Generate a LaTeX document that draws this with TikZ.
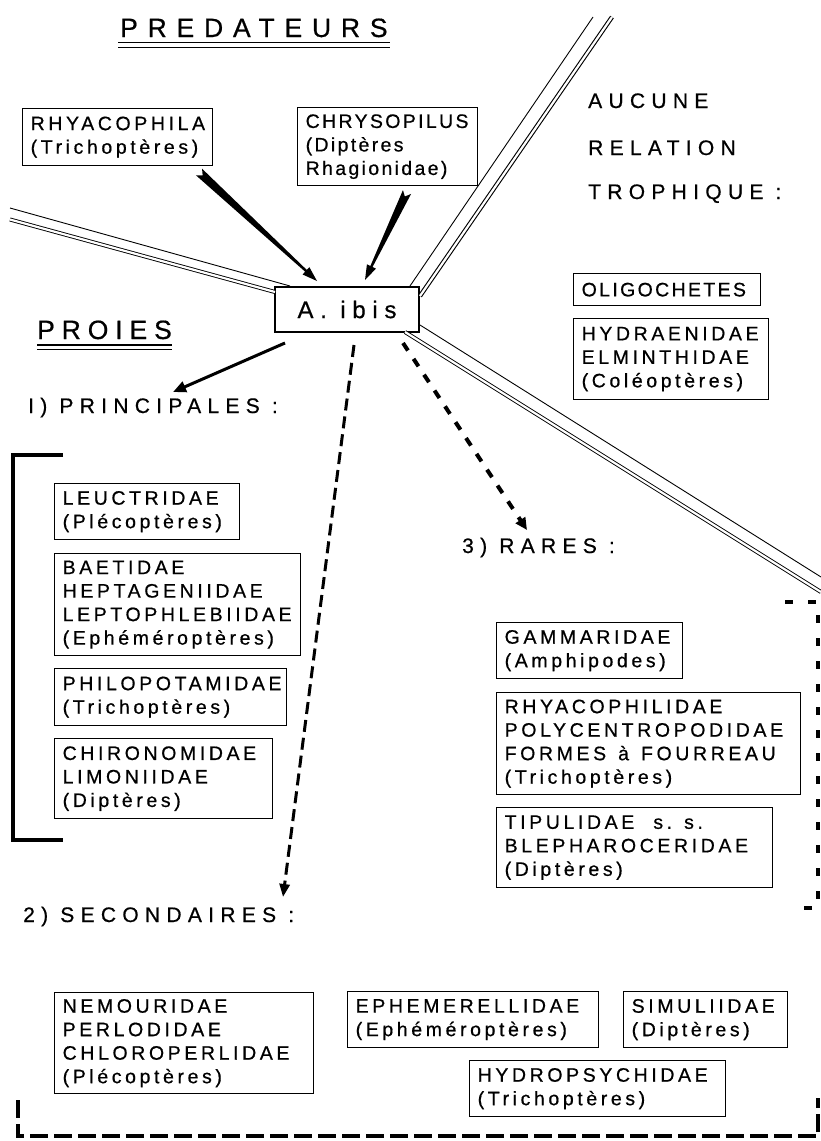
\documentclass[tikz,border=0pt]{standalone}
\usepackage{fontspec}
\setmainfont{Liberation Sans}
\newfontfamily\boxfont[LetterSpace=18.5,FakeBold=0.6]{Liberation Sans}
\newfontfamily\boxfontn[LetterSpace=12,FakeBold=0.6]{Liberation Sans}
\newfontfamily\hdfont[LetterSpace=30,FakeBold=0.6]{Liberation Sans}
\newfontfamily\ttlfont[LetterSpace=37,FakeBold=0.6]{Liberation Sans}
\newfontfamily\proiesfont[LetterSpace=26,FakeBold=0.6]{Liberation Sans}
\newfontfamily\ibisfont[LetterSpace=28,FakeBold=0.6]{Liberation Sans}
\usetikzlibrary{arrows.meta,calc}
\tikzset{
  box/.style={draw, line width=1.3pt, inner sep=0pt, anchor=north west},
  btxt/.style={anchor=west, align=left, inner sep=0pt, font={\boxfont\fontsize{19.5}{23.5}\selectfont}},
  btxtn/.style={btxt, font={\boxfontn\fontsize{19.5}{23.5}\selectfont}},
  hd/.style={anchor=base west, inner sep=0pt, font={\hdfont\fontsize{21}{24}\selectfont}},
  ttl/.style={anchor=base west, inner sep=0pt, font={\ttlfont\fontsize{26.5}{30}\selectfont}},
  road/.style={line width=0.9pt},
  droad/.style={double, double distance=2.2pt, line width=0.9pt},
  preyarrow/.style={line width=3pt, -{Triangle[length=13pt,width=11pt]}},
  dashlong/.style={line width=3pt, dash pattern=on 12pt off 6pt, -{Triangle[length=13pt,width=10pt]}},
  dashshort/.style={line width=4pt, dash pattern=on 9pt off 10pt, -{Triangle[length=12pt,width=11pt]}},
  bracket/.style={line width=4pt},
}
\newcommand\tbox[7][btxt]{%
  \node[box, minimum width=#5pt, minimum height=#6pt] (#2) at (#3,#4) {};
  \node[#1] (#2-t) at ($(#2.west)+(8.5,0)$) {#7};
}
\newcommand\predarrow[3]{% name, start, end
  \coordinate (#1h) at ($(#3)!15pt!(#2)$);
  \fill ($(#2)!4.5pt!90:(#3)$) -- ($(#2)!5pt!(#3)$) -- ($(#2)!4.5pt!-90:(#3)$)
     -- ($(#1h)!1.2pt!-90:(#3)$) -- ($(#1h)!5pt!-90:(#3)$) -- (#3)
     -- ($(#1h)!5pt!90:(#3)$) -- ($(#1h)!1.2pt!90:(#3)$) -- cycle;
}
\begin{document}
\begin{tikzpicture}[x=1pt,y=-1pt]
\useasboundingbox (0,0) rectangle (821,1141);

% titles
\node[ttl] (pred) at (120,37) {PREDATEURS};
\draw[line width=1.2pt] (118,42.5) -- (390,42.5);
\draw[line width=0.8pt] (118,47) -- (390,47);
\node[ttl, font={\proiesfont\fontsize{26.5}{30}\selectfont}] (proies) at (37,339) {PROIES};
\draw[line width=1.2pt] (37,345) -- (172,345);
\draw[line width=0.8pt] (37,349.5) -- (172,349.5);

% central node
\node[draw, line width=1.3pt, minimum width=144pt, minimum height=45pt, inner sep=0pt,
      font={\ibisfont\fontsize{24}{28}\selectfont}] (ibis) at (347,309.5) {A. ibis};

% roads (double lines)
\coordinate (l1a) at (10,208);  \coordinate (l1b) at (290,286);
\coordinate (l2a) at (10,219.5); \coordinate (l2b) at (275,292);
\draw[road] (l1a) -- (l1b);
\draw[droad] (l2a) -- (l2b);
\coordinate (u1a) at (410,286); \coordinate (u1b) at (593,17);
\coordinate (u2a) at (420,296); \coordinate (u2b) at (612,17);
\draw[road] (u1a) -- (u1b);
\draw[droad, line width=1.1pt] (u2a) -- (u2b);
\coordinate (r1a) at (420,325); \coordinate (r1b) at (821,577);
\coordinate (r2a) at (405,332); \coordinate (r2b) at (821,592);
\draw[road] (r1a) -- (r1b);
\draw[droad] (r2a) -- (r2b);

% predators
\tbox{rhya}{22}{108}{190}{57}{RHYACOPHILA\\(Trichoptères)}
\tbox[btxtn]{chry}{297}{107}{180}{78}{CHRYSOPILUS\\(Diptères\\Rhagionidae)}
\coordinate (p1s) at (199,172); \coordinate (p1e) at (317,281);
\coordinate (p2s) at (407,192); \coordinate (p2e) at (365,280);
\predarrow{p1}{p1s}{p1e}
\predarrow{p2}{p2s}{p2e}

% no relation
\node[hd] (auc1) at (588,108) {AUCUNE};
\node[hd] (auc2) at (588,155) {RELATION};
\node[hd] (auc3) at (588,199) {TROPHIQUE :};
\tbox[btxtn]{oligo}{573}{273}{187}{32}{OLIGOCHETES}
\tbox{hydra}{573}{318}{195}{81}{HYDRAENIDAE\\ELMINTHIDAE\\(Coléoptères)}

% principal prey
\node[hd] (princ) at (28,413) {I) PRINCIPALES :};
\coordinate (a1s) at (285,343); \coordinate (a1e) at (173,392);
\draw[preyarrow] (a1s) -- (a1e);
\draw[bracket] (63,455) -- (13,455) -- (13,840) -- (63,840);
\tbox{leuc}{54}{483}{185}{56}{LEUCTRIDAE\\(Plécoptères)}
\tbox{baet}{54}{553}{246}{102}{BAETIDAE\\HEPTAGENIIDAE\\LEPTOPHLEBIIDAE\\(Ephéméroptères)}
\tbox{philo}{54}{668}{232}{57}{PHILOPOTAMIDAE\\(Trichoptères)}
\tbox{chiro}{54}{738}{218}{80}{CHIRONOMIDAE\\LIMONIIDAE\\(Diptères)}

% rare prey
\coordinate (a3s) at (403,343); \coordinate (a3e) at (527,530);
\draw[dashshort] (a3s) -- (a3e);
\node[hd] (rares) at (462,553) {3) RARES :};
\draw[bracket, dash pattern=on 8pt off 15pt] (785,602) -- (818,602) -- (818,908) -- (790,908);
\tbox{gamm}{496}{622}{186}{56}{GAMMARIDAE\\(Amphipodes)}
\tbox{rhyc}{496}{692}{304}{102}{RHYACOPHILIDAE\\POLYCENTROPODIDAE\\FORMES\hspace{3pt} à\hspace{3pt} FOURREAU\\(Trichoptères)}
\tbox{tipu}{496}{807}{276}{80}{TIPULIDAE\hspace{10pt} s. s.\\BLEPHAROCERIDAE\\(Diptères)}

% secondary prey
\coordinate (a2s) at (354,345); \coordinate (a2e) at (283,897);
\draw[dashlong] (a2s) -- (a2e);
\node[hd] (second) at (23,922) {2) SECONDAIRES :};
\tbox{nemo}{54}{992}{259}{101}{NEMOURIDAE\\PERLODIDAE\\CHLOROPERLIDAE\\(Plécoptères)}
\tbox{ephe}{347}{991}{251}{56}{EPHEMERELLIDAE\\(Ephéméroptères)}
\tbox{simu}{623}{991}{164}{56}{SIMULIIDAE\\(Diptères)}
\tbox{hydro}{469}{1060}{256}{56}{HYDROPSYCHIDAE\\(Trichoptères)}
\draw[bracket, dash pattern=on 18pt off 6pt] (18,1100) -- (18,1136) -- (818,1136) -- (818,1098);
\end{tikzpicture}
\end{document}
